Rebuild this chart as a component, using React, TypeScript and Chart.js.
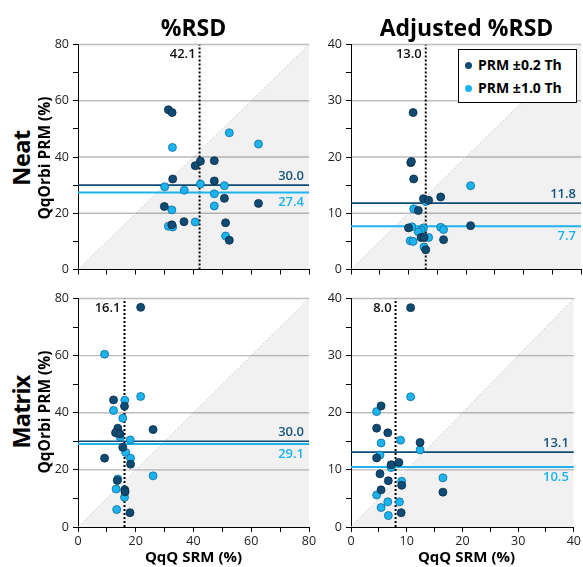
import React, { useEffect, useRef } from "react";
import { Chart, registerables } from "chart.js";
Chart.register(...registerables);

const FONT = "'Open Sans', 'Noto Sans', sans-serif";
const DARK = "#0f4b73";
const DARK_EDGE = "#062b45";
const LIGHT = "#1db3ef";
const LIGHT_EDGE = "#0c6c9a";
const DARK_TEXT = "#15547e";
const LIGHT_TEXT = "#1ab2ee";
const GRID = "#bdbdbd";

const columnTitles = ["%RSD", "Adjusted %RSD"];
const rowTitles = ["Neat", "Matrix"];
const yTitle = "QqOrbi PRM (%)";
const xTitle = "QqQ SRM (%)";
const legendLabels = ["PRM \u00b10.2 Th", "PRM \u00b11.0 Th"];

// Neat, %RSD
const neatRsdNarrow: [number, number][] = [
  [31.3, 56.8], [32.6, 55.8], [42.4, 38.5], [40.6, 36.9], [47.2, 38.7], [32.8, 32.2], [47.2, 31.5],
  [50.7, 25.3], [62.5, 23.5], [29.9, 22.4], [36.7, 17.0], [32.5, 15.9], [51.1, 16.6], [52.4, 10.4],
];
const neatRsdWide: [number, number][] = [
  [52.4, 48.6], [62.5, 44.6], [32.7, 43.4], [30.0, 29.4], [42.4, 30.4], [50.7, 29.8], [36.8, 28.2],
  [47.2, 26.9], [47.2, 22.6], [32.5, 21.2], [40.6, 16.9], [31.3, 15.4], [32.8, 15.1], [51.1, 11.9],
];
const neatRsdStats = [42.1, 30.0, 27.4]; // median SRM, mean narrow, mean wide

// Neat, adjusted %RSD
const neatAdjNarrow: [number, number][] = [
  [10.8, 27.9], [10.4, 19.0], [10.5, 19.2], [10.9, 16.1], [12.6, 12.6], [13.5, 12.3], [15.6, 12.9],
  [11.7, 10.5], [20.8, 7.8], [10.0, 7.4], [12.2, 5.7], [12.7, 5.7], [16.1, 5.3], [13.0, 3.5],
];
const neatAdjWide: [number, number][] = [
  [20.8, 14.9], [10.9, 10.8], [13.0, 12.1], [10.6, 7.6], [12.6, 7.4], [12.2, 7.0], [15.6, 7.5],
  [16.1, 7.1], [11.7, 6.7], [10.3, 5.1], [10.8, 5.0], [13.5, 5.7], [12.7, 4.0],
];
const neatAdjStats = [13.0, 11.8, 7.7];

// Matrix, %RSD
const matrixRsdNarrow: [number, number][] = [
  [21.7, 76.9], [12.3, 44.5], [16.1, 42.3], [13.8, 34.6], [13.0, 33.0], [14.5, 32.6], [26.0, 34.1],
  [15.5, 27.9], [9.2, 24.1], [18.2, 22.0], [13.6, 16.3], [16.2, 13.0], [16.3, 12.3], [18.0, 5.0],
];
const matrixRsdWide: [number, number][] = [
  [9.2, 60.5], [21.7, 45.7], [16.2, 44.4], [12.3, 40.8], [15.5, 38.1], [14.6, 31.5], [18.1, 30.5],
  [16.5, 26.1], [18.2, 24.1], [26.0, 17.9], [13.2, 13.3], [16.1, 10.4], [13.4, 6.1], [13.8, 16.8],
];
const matrixRsdStats = [16.1, 30.0, 29.1];

// Matrix, adjusted %RSD
const matrixAdjNarrow: [number, number][] = [
  [10.7, 38.4], [5.4, 21.2], [4.6, 17.3], [6.6, 16.5], [12.4, 14.8], [4.6, 12.1], [7.2, 10.9],
  [8.6, 11.3], [5.2, 9.3], [6.7, 8.1], [9.1, 7.3], [5.4, 6.5], [16.5, 6.1], [9.0, 2.5],
];
const matrixAdjWide: [number, number][] = [
  [10.7, 22.8], [4.6, 20.2], [5.4, 14.7], [8.9, 15.2], [12.4, 13.5], [5.2, 12.6], [7.2, 10.4],
  [9.1, 8.0], [16.5, 8.6], [4.6, 5.6], [6.6, 4.4], [8.7, 4.4], [5.4, 3.4], [6.7, 2.0],
];
const matrixAdjStats = [8.0, 13.1, 10.5];

type PanelProps = {
  left: number;
  top: number;
  width: number;
  height: number;
  max: number;
  step: number;
  labelStep: number;
  narrow: [number, number][];
  wide: [number, number][];
  stats: number[];
  xLabels: boolean;
  padRight: number;
};

function Panel(p: PanelProps) {
  const ref = useRef<HTMLCanvasElement | null>(null);
  useEffect(() => {
    if (!ref.current) return;
    const [med, meanN, meanW] = p.stats;
    const pts = (a: [number, number][]) => a.map(([x, y]) => ({ x, y }));
    const gridValues: number[] = [];
    for (let i = 1; i * p.labelStep <= p.max + 1e-9; i++) gridValues.push(i * p.labelStep);

    const panelPlugin = {
      id: "panelDecor",
      beforeDatasetsDraw(chart: any) {
        const { ctx, chartArea, scales } = chart;
        const ys = scales.y;
        ctx.save();
        ctx.strokeStyle = GRID;
        ctx.lineWidth = 1.4;
        for (const v of gridValues) {
          const py = ys.getPixelForValue(v);
          ctx.beginPath();
          ctx.moveTo(chartArea.left + 1, py);
          ctx.lineTo(chartArea.right, py);
          ctx.stroke();
        }
        ctx.restore();
      },
      afterDatasetsDraw(chart: any) {
        const { ctx, chartArea, scales } = chart;
        const xs = scales.x;
        const ys = scales.y;
        ctx.save();
        ctx.font = `600 13px ${FONT}`;
        ctx.textBaseline = "middle";
        ctx.textAlign = "right";
        ctx.fillStyle = "#111";
        ctx.fillText(med.toFixed(1), xs.getPixelForValue(med) - 4, chartArea.top + 10);
        ctx.fillStyle = DARK_TEXT;
        ctx.fillText(meanN.toFixed(1), chartArea.right - 5, ys.getPixelForValue(meanN) - 9);
        ctx.fillStyle = LIGHT_TEXT;
        ctx.fillText(meanW.toFixed(1), chartArea.right - 5, ys.getPixelForValue(meanW) + 10);
        ctx.restore();
      },
    };
    const tickFont = { family: FONT, size: 12.5 };
    const chart = new Chart(ref.current, {
      type: "line",
      data: {
        datasets: [
          {
            data: [{ x: 0, y: 0 }, { x: p.max, y: p.max }],
            borderColor: "#c4c4c4",
            borderWidth: 0.8,
            borderDash: [2, 2],
            backgroundColor: "rgba(0,0,0,0.055)",
            fill: "start",
            pointRadius: 0,
            order: 6,
          },
          {
            data: [{ x: med, y: 0 }, { x: med, y: p.max }],
            borderColor: "#000",
            borderWidth: 2,
            borderDash: [2, 2],
            fill: false,
            pointRadius: 0,
            order: 5,
          },
          {
            data: [{ x: 0, y: meanN }, { x: p.max, y: meanN }],
            borderColor: DARK,
            borderWidth: 1.6,
            fill: false,
            pointRadius: 0,
            order: 4,
          },
          {
            data: [{ x: 0, y: meanW }, { x: p.max, y: meanW }],
            borderColor: LIGHT,
            borderWidth: 2,
            fill: false,
            pointRadius: 0,
            order: 3,
          },
          {
            data: pts(p.wide),
            showLine: false,
            fill: false,
            pointRadius: 4,
            pointBackgroundColor: LIGHT,
            pointBorderColor: LIGHT_EDGE,
            pointBorderWidth: 0.8,
            backgroundColor: LIGHT,
            borderColor: LIGHT_EDGE,
            order: 2,
          },
          {
            data: pts(p.narrow),
            showLine: false,
            fill: false,
            pointRadius: 4,
            pointBackgroundColor: DARK,
            pointBorderColor: DARK_EDGE,
            pointBorderWidth: 0.8,
            backgroundColor: DARK,
            borderColor: DARK_EDGE,
            order: 1,
          },
        ] as any,
      },
      options: {
        animation: false,
        responsive: false,
        devicePixelRatio: 1,
        events: [],
        layout: { padding: { top: 10, right: p.padRight, left: 0, bottom: 0 }, autoPadding: false } as any,
        plugins: { legend: { display: false }, tooltip: { enabled: false }, title: { display: false } },
        scales: {
          x: {
            type: "linear",
            position: "bottom",
            min: 0,
            max: p.max,
            afterFit: (s: any) => {
              s.height = p.xLabels ? 22 : 8;
            },
            border: { display: true, color: "#000", width: 1 },
            grid: { drawOnChartArea: false, drawTicks: true, tickLength: 5, tickColor: "#000", color: "#000" },
            ticks: {
              stepSize: p.step,
              autoSkip: false,
              maxRotation: 0,
              minRotation: 0,
              padding: 2,
              color: "#222",
              font: tickFont,
              callback: (v: any) => (p.xLabels && Math.abs(v % p.labelStep) < 1e-9 ? String(v) : ""),
            },
          },
          y: {
            type: "linear",
            position: "left",
            min: 0,
            max: p.max,
            afterFit: (s: any) => {
              s.width = 38;
            },
            border: { display: true, color: "#000", width: 1 },
            grid: {
              display: true,
              drawOnChartArea: false,
              drawTicks: true,
              tickLength: 5,
              tickColor: "#000",
              color: "#000",
            },
            ticks: {
              stepSize: p.step,
              autoSkip: false,
              padding: 4,
              color: "#222",
              font: tickFont,
              callback: (v: any) => (Math.abs(v % p.labelStep) < 1e-9 ? String(v) : ""),
            },
          },
        },
      } as any,
      plugins: [panelPlugin],
    });
    return () => chart.destroy();
  }, []);
  return (
    <canvas
      ref={ref}
      width={p.width}
      height={p.height}
      style={{ position: "absolute", left: p.left, top: p.top, width: p.width, height: p.height }}
    />
  );
}

function Label(props: {
  x: number;
  y: number;
  text: string;
  size: number;
  weight?: number;
  rotate?: boolean;
  spacing?: number;
}) {
  return (
    <div
      style={{
        position: "absolute",
        left: props.x,
        top: props.y,
        transform: `translate(-50%, -50%)${props.rotate ? " rotate(-90deg)" : ""}`,
        fontFamily: FONT,
        fontSize: props.size,
        fontWeight: props.weight ?? 700,
        letterSpacing: props.spacing ?? 0,
        lineHeight: 1,
        whiteSpace: "nowrap",
        color: "#000",
      }}
    >
      {props.text}
    </div>
  );
}

export default function App() {
  return (
    <div
      style={{
        position: "absolute",
        left: 0,
        top: 0,
        width: 583,
        height: 567,
        overflow: "hidden",
        background: "#fff",
      }}
    >
      <Panel left={40} top={33} width={281} height={248} max={80} step={10} labelStep={20}
        narrow={neatRsdNarrow} wide={neatRsdWide} stats={neatRsdStats} xLabels={false} padRight={12} />
      <Panel left={313} top={33} width={270} height={248} max={40} step={5} labelStep={10}
        narrow={neatAdjNarrow} wide={neatAdjWide} stats={neatAdjStats} xLabels={false} padRight={1} />
      <Panel left={40} top={287} width={281} height={262} max={80} step={10} labelStep={20}
        narrow={matrixRsdNarrow} wide={matrixRsdWide} stats={matrixRsdStats} xLabels={true} padRight={12} />
      <Panel left={313} top={287} width={270} height={262} max={40} step={5} labelStep={10}
        narrow={matrixAdjNarrow} wide={matrixAdjWide} stats={matrixAdjStats} xLabels={true} padRight={1} />

      <Label x={193.5} y={26.5} text={columnTitles[0]} size={23} />
      <Label x={466.5} y={26.5} text={columnTitles[1]} size={23} />
      <Label x={21.5} y={158} text={rowTitles[0]} size={23.5} rotate spacing={-0.5} />
      <Label x={21.5} y={412} text={rowTitles[1]} size={23.5} rotate spacing={-0.8} />
      <Label x={44.5} y={158} text={yTitle} size={15.5} rotate />
      <Label x={44.5} y={412} text={yTitle} size={15.5} rotate />
      <Label x={193.5} y={555.5} text={xTitle} size={15} />
      <Label x={466.5} y={555.5} text={xTitle} size={15} />

      <div
        style={{
          position: "absolute",
          left: 458,
          top: 49,
          width: 117,
          height: 52,
          border: "1px solid #000",
          background: "#fff",
          fontFamily: FONT,
          fontWeight: 700,
          fontSize: 14,
          color: "#000",
        }}
      >
        {legendLabels.map((t, i) => (
          <div
            key={t}
            style={{ position: "absolute", left: 6, top: i === 0 ? 5 : 28, height: 20, display: "flex", alignItems: "center", whiteSpace: "nowrap" }}
          >
            <span
              style={{
                display: "inline-block",
                width: 7,
                height: 7,
                borderRadius: "50%",
                background: i === 0 ? DARK : LIGHT,
                marginRight: 6,
              }}
            />
            <span style={{ lineHeight: 1 }}>{t}</span>
          </div>
        ))}
      </div>
    </div>
  );
}
